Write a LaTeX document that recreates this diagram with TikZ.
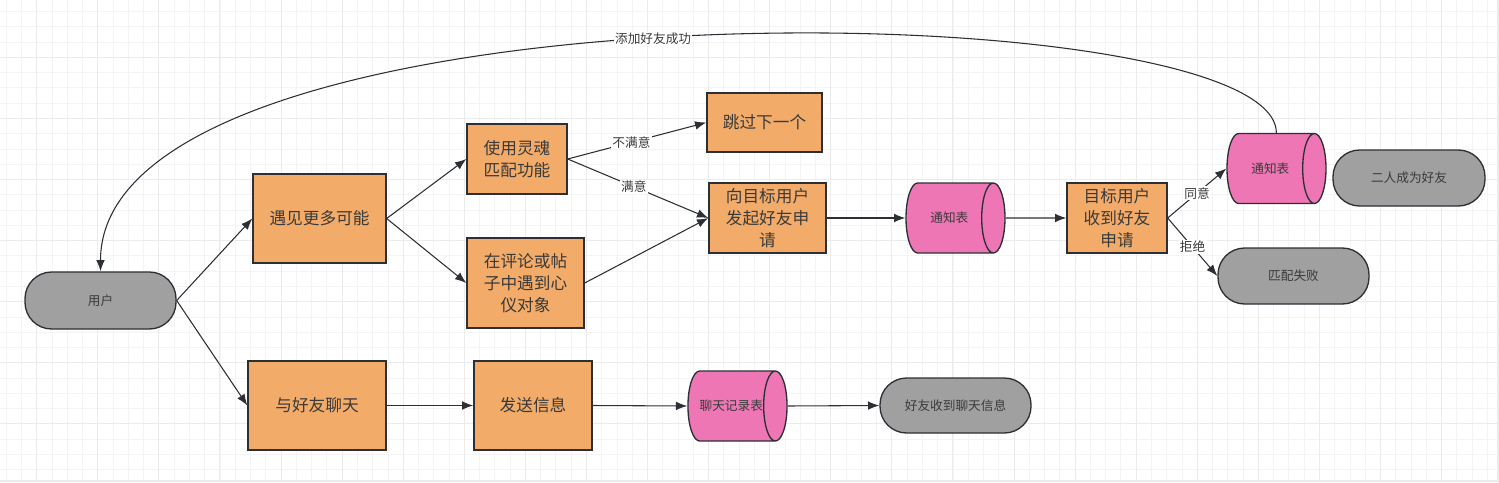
\documentclass[tikz,border=0pt]{standalone}
\usepackage{fontspec}
\setmainfont{Noto Sans CJK SC}
\usepackage{tikz}
\usetikzlibrary{arrows.meta}
\usetikzlibrary{shapes,shapes.geometric}
\definecolor{linecol}{HTML}{2C3036}
\definecolor{txtcol}{HTML}{3A3A3A}
\definecolor{boxorange}{HTML}{F2AB68}
\definecolor{tablepink}{HTML}{EE76B5}
\definecolor{termgray}{HTML}{A0A0A0}
\definecolor{gridminor}{HTML}{F4F4F4}
\definecolor{gridmajor}{HTML}{EBEBEB}
\tikzset{>=stealth}
\tikzset{
  flowbox/.style 2 args={draw=linecol, fill=boxorange, text=txtcol, line width=1pt,
    align=center, inner sep=0pt, minimum width=#1*0.75pt, minimum height=#2*0.75pt,
    font=\fontsize{12.5}{16.5}\selectfont},
  endbox/.style 2 args={draw=linecol, fill=termgray, text=txtcol, line width=1pt,
    rounded corners=20pt, inner sep=0pt, minimum width=#1*0.75pt, minimum height=#2*0.75pt,
    font=\fontsize{9.5}{12}\selectfont},
  tablecyl/.style={draw=linecol, fill=tablepink, text=txtcol, line width=1pt,
    cylinder, aspect=2, inner sep=0pt, minimum width=70*0.75pt, minimum height=99*0.75pt,
    anchor=shape center, font=\fontsize{9.5}{12}\selectfont},
  flowarrow/.style={-{Latex[length=8.5pt,width=6.5pt]}, draw=linecol, line width=0.8pt},
  edgelabel/.style={fill=white, text=txtcol, inner sep=1pt, font=\fontsize{9.5}{12}\selectfont}
}
\begin{document}
\begin{tikzpicture}[x=0.75pt, y=-0.75pt]
      \useasboundingbox (0,0) rectangle (1499,482);
      % background grid
      \foreach \i in {0,...,97}
        \draw[gridminor, line width=0.6pt] ({6.16+15.27*\i},0) -- ({6.16+15.27*\i},482);
      \foreach \j in {0,...,30}
        \draw[gridminor, line width=0.6pt] (0,{11.5+15.27*\j}) -- (1499,{11.5+15.27*\j});
      \foreach \i in {0,...,23}
        \draw[gridmajor, line width=0.7pt] ({36.7+61.08*\i},0) -- ({36.7+61.08*\i},482);
      \foreach \j in {0,...,6}
        \draw[gridmajor, line width=0.7pt] (0,{57.3+61.08*\j}) -- (1499,{57.3+61.08*\j});
      \draw[gridmajor, line width=1.2pt] (1498,0) -- (1498,481) -- (0,481);

      % nodes
      \node[endbox={151}{57}] (user) at (100.5,300.5) {用户};
      \node[flowbox={133}{89}] (meet) at (319.5,218.5) {遇见更多可能};
      \node[flowbox={138}{89}] (chat) at (317,405.5) {与好友聊天};
      \node[flowbox={100}{70}] (soul) at (517,159) {使用灵魂\\匹配功能};
      \node[flowbox={117}{90}] (comment) at (525.5,283) {在评论或帖\\子中遇到心\\仪对象};
      \node[flowbox={115}{59}] (skip) at (764.5,122.5) {跳过下一个};
      \node[flowbox={117}{70}] (request) at (767.5,218) {向目标用户\\发起好友申\\请};
      \node[tablecyl] (notice1) at (955.5,218) {通知表};
      \node[flowbox={100}{70}] (receive) at (1117,218) {目标用户\\收到好友\\申请};
      \node[tablecyl] (notice2) at (1276.5,168.5) {通知表};
      \node[endbox={152}{56}] (friends) at (1409,178) {二人成为好友};
      \node[endbox={151}{56}] (fail) at (1293.5,276) {匹配失败};
      \node[flowbox={118}{89}] (send) at (533,405.5) {发送信息};
      \node[tablecyl] (chatlog) at (737.5,406) {聊天记录表};
      \node[endbox={151}{55}] (gotmsg) at (955.5,405.5) {好友收到聊天信息};

      % connectors
      \draw[flowarrow] (user.east) -- (meet.west);
      \draw[flowarrow] (user.east) -- (chat.west);
      \draw[flowarrow] (meet.east) -- (soul.west);
      \draw[flowarrow] (meet.east) -- (comment.west);
      \draw[flowarrow] (soul.east) -- node[edgelabel, pos=0.46] {不满意} (skip.west);
      \draw[flowarrow] (soul.east) -- node[edgelabel, pos=0.47] {满意} (request.west);
      \draw[flowarrow] (comment.east) -- (request.west);
      \draw[flowarrow] (request.east) -- (notice1.west);
      \draw[flowarrow] (notice1.east) -- (receive.west);
      \draw[flowarrow] (receive.east) -- node[edgelabel, pos=0.5] {同意} (notice2.west);
      \draw[flowarrow] (receive.east) -- node[edgelabel, pos=0.5] {拒绝} (fail.west);
      \draw[flowarrow] ([xshift=4.5pt]notice2.north) .. controls +(0,-143) and +(0,-297) .. node[edgelabel, pos=0.52] {添加好友成功} (user.north);
      \draw[flowarrow] (chat.east) -- (send.west);
      \draw[flowarrow] (send.east) -- (chatlog.west);
      \draw[flowarrow] (chatlog.east) -- (gotmsg.west);
    \end{tikzpicture}
\end{document}
